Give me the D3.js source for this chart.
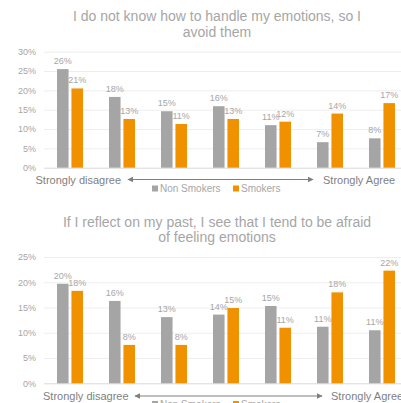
<!DOCTYPE html>
<html>
<head>
<meta charset="utf-8">
<script src="https://cdn.jsdelivr.net/npm/d3@7"></script>
<style>
  html, body { margin: 0; padding: 0; background: #fff; }
  svg { display: block; font-family: "Liberation Sans", Arial, sans-serif; }
</style>
</head>
<body>
<svg id="chart" width="401" height="403"></svg>
<script>
// likert levels, strongly disagree -> strongly agree
const categories = ["1", "2", "3", "4", "5", "6", "7"];
const series = ["Non Smokers", "Smokers"];

// "I do not know how to handle my emotions, so I avoid them"
const avoidNonSmokers = [25.5, 18.3, 14.6, 15.9, 11.0, 6.6, 7.6];
const avoidSmokers = [20.5, 12.6, 11.3, 12.6, 11.9, 14.0, 16.7];
const avoidTicks = [0, 5, 10, 15, 20, 25, 30];

// "If I reflect on my past, I see that I tend to be afraid of feeling emotions"
const afraidNonSmokers = [19.7, 16.3, 13.1, 13.6, 15.3, 11.2, 10.5];
const afraidSmokers = [18.3, 7.6, 7.6, 14.9, 11.0, 18.0, 22.3];
const afraidTicks = [0, 5, 10, 15, 20, 25];

const colors = {"Non Smokers": "#a5a5a5", "Smokers": "#f09100"};
const textGray = "#a6a6a6";

const svg = d3.select("#chart");

svg.append("defs").append("marker")
    .attr("id", "arrow")
    .attr("viewBox", "0 0 10 10")
    .attr("refX", 9).attr("refY", 5)
    .attr("markerWidth", 6).attr("markerHeight", 6)
    .attr("orient", "auto-start-reverse")
    .append("path")
    .attr("d", "M0,0L10,5L0,10Z")
    .attr("fill", "#7f7f7f");

const x = d3.scaleBand()
    .domain(categories)
    .range([44, 408])
    .paddingInner(0.5)
    .paddingOuter(0.25);

const xInner = d3.scaleBand()
    .domain(series)
    .range([0, x.bandwidth()])
    .paddingInner(0.2);

function drawChart(g, cfg) {
    const y = d3.scaleLinear().domain([0, d3.max(cfg.ticks)]).range([cfg.bottom, cfg.top]);

    // title
    g.append("text")
        .attr("text-anchor", "middle")
        .attr("fill", textGray)
        .attr("font-size", 14)
        .selectAll("tspan")
        .data(cfg.title)
        .join("tspan")
        .attr("x", 217)
        .attr("y", (d, i) => cfg.titleY + i * 15.6)
        .text(d => d);

    // grid + y axis
    const yAxis = d3.axisLeft(y)
        .tickValues(cfg.ticks)
        .tickSize(-(408 - 44))
        .tickPadding(8)
        .tickFormat(d => d + "%");

    const ax = g.append("g")
        .attr("transform", "translate(44,0)")
        .call(yAxis);
    ax.select(".domain").remove();
    ax.selectAll(".tick line")
        .attr("stroke", d => d === 0 ? "#d9d9d9" : "#eeeeee");
    ax.selectAll(".tick text")
        .attr("fill", textGray)
        .attr("font-size", 9)
        .attr("font-family", "Liberation Sans, Arial, sans-serif");

    const rows = categories.map((c, i) => ({
        cat: c,
        values: [
            {key: series[0], value: cfg.non[i]},
            {key: series[1], value: cfg.smk[i]}
        ]
    }));

    const groups = g.selectAll(".group")
        .data(rows)
        .join("g")
        .attr("class", "group")
        .attr("transform", d => `translate(${x(d.cat)},0)`);

    groups.selectAll("rect")
        .data(d => d.values)
        .join("rect")
        .attr("x", d => xInner(d.key))
        .attr("width", xInner.bandwidth())
        .attr("y", d => y(d.value))
        .attr("height", d => y(0) - y(d.value))
        .attr("fill", d => colors[d.key]);

    groups.selectAll(".label")
        .data(d => d.values)
        .join("text")
        .attr("class", "label")
        .attr("x", d => xInner(d.key) + xInner.bandwidth() / 2)
        .attr("y", d => y(d.value) - 5)
        .attr("text-anchor", "middle")
        .attr("fill", textGray)
        .attr("font-size", 9)
        .text(d => Math.round(d.value) + "%");

    // scale direction annotation
    g.append("text")
        .attr("x", cfg.leftX).attr("y", cfg.axisY + 4)
        .attr("fill", "#7f7f7f")
        .attr("font-size", 11)
        .text("Strongly disagree");
    g.append("line")
        .attr("x1", cfg.arrow[0]).attr("x2", cfg.arrow[1])
        .attr("y1", cfg.axisY).attr("y2", cfg.axisY)
        .attr("stroke", "#7f7f7f")
        .attr("stroke-width", 1)
        .attr("marker-start", "url(#arrow)")
        .attr("marker-end", "url(#arrow)");
    g.append("text")
        .attr("x", cfg.rightX).attr("y", cfg.axisY + 4)
        .attr("fill", "#7f7f7f")
        .attr("font-size", 11)
        .text("Strongly Agree");

    // legend
    const leg = g.selectAll(".legend")
        .data(series)
        .join("g")
        .attr("class", "legend")
        .attr("transform", (d, i) => `translate(${i === 0 ? 152 : 233},${cfg.legendY})`);
    leg.append("rect")
        .attr("x", 0).attr("y", -3)
        .attr("width", 6).attr("height", 6)
        .attr("fill", d => colors[d]);
    leg.append("text")
        .attr("x", 8).attr("y", 3.5)
        .attr("fill", textGray)
        .attr("font-size", 10)
        .text(d => d);
}

drawChart(svg.append("g"), {
    title: ["I do not know how to handle my emotions, so I", "avoid them"],
    titleY: 21,
    non: avoidNonSmokers,
    smk: avoidSmokers,
    ticks: avoidTicks,
    top: 51.7,
    bottom: 167.7,
    axisY: 179.5,
    leftX: 35.5,
    arrow: [128, 313],
    rightX: 323,
    legendY: 188.5
});

drawChart(svg.append("g"), {
    title: ["If I reflect on my past, I see that I tend to be afraid", "of feeling emotions"],
    titleY: 226.5,
    non: afraidNonSmokers,
    smk: afraidSmokers,
    ticks: afraidTicks,
    top: 257,
    bottom: 383.3,
    axisY: 396,
    leftX: 43,
    arrow: [135, 322],
    rightX: 331,
    legendY: 404
});
</script>
</body>
</html>
